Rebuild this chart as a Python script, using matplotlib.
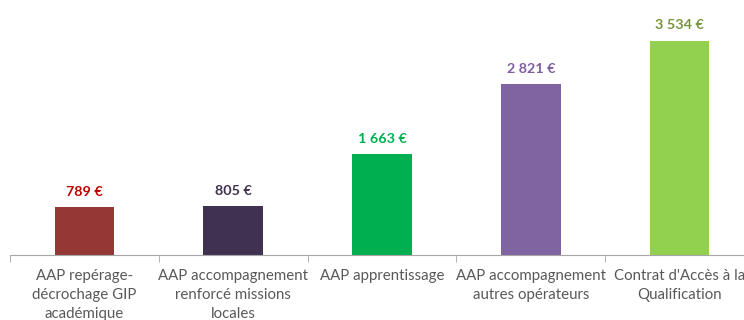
import matplotlib.pyplot as plt
from matplotlib.ticker import FixedLocator

categories = [
    "AAP repérage-\ndécrochage GIP\nacadémique",
    "AAP accompagnement\nrenforcé missions\nlocales",
    "AAP apprentissage",
    "AAP accompagnement\nautres opérateurs",
    "Contrat d'Accès à la\nQualification",
]
costs = [789, 805, 1663, 2821, 3534]
bar_colors = ["#953735", "#403151", "#00B050", "#8064A2", "#92D050"]
label_colors = ["#C00000", "#403151", "#00B050", "#7F5F9F", "#77933C"]

plt.rcParams["font.family"] = ["Lato", "DejaVu Sans"]

fig = plt.figure(figsize=(7.44, 3.2), dpi=100)
ax = fig.add_axes([10 / 744, 65 / 320, 744 / 744, 242 / 320])

x = range(len(costs))
bars = ax.bar(x, costs, width=0.4, color=bar_colors)

for rect, value, col in zip(bars, costs, label_colors):
    text = f"{value:,}".replace(",", " ") + " €"
    ax.annotate(text, (rect.get_x() + rect.get_width() / 2, value),
                xytext=(0, 7), textcoords="offset points",
                ha="center", va="bottom", fontsize=10.4, fontweight="bold",
                color=col)

ax.set_xlim(-0.5, len(costs) - 0.5)
ax.set_ylim(0, 4000)

ax.set_xticks(list(x))
ax.set_xticklabels(categories, fontsize=10.8, color="#595959", linespacing=1.45)
ax.tick_params(axis="x", which="major", length=0, pad=10)
ax.xaxis.set_minor_locator(FixedLocator([i - 0.5 for i in range(len(costs) + 1)]))
ax.tick_params(axis="x", which="minor", length=5, color="#A6A6A6")
ax.set_yticks([])

for side in ["top", "right", "left"]:
    ax.spines[side].set_visible(False)
ax.spines["bottom"].set_color("#A6A6A6")

fig.savefig("out.png", dpi=100)
